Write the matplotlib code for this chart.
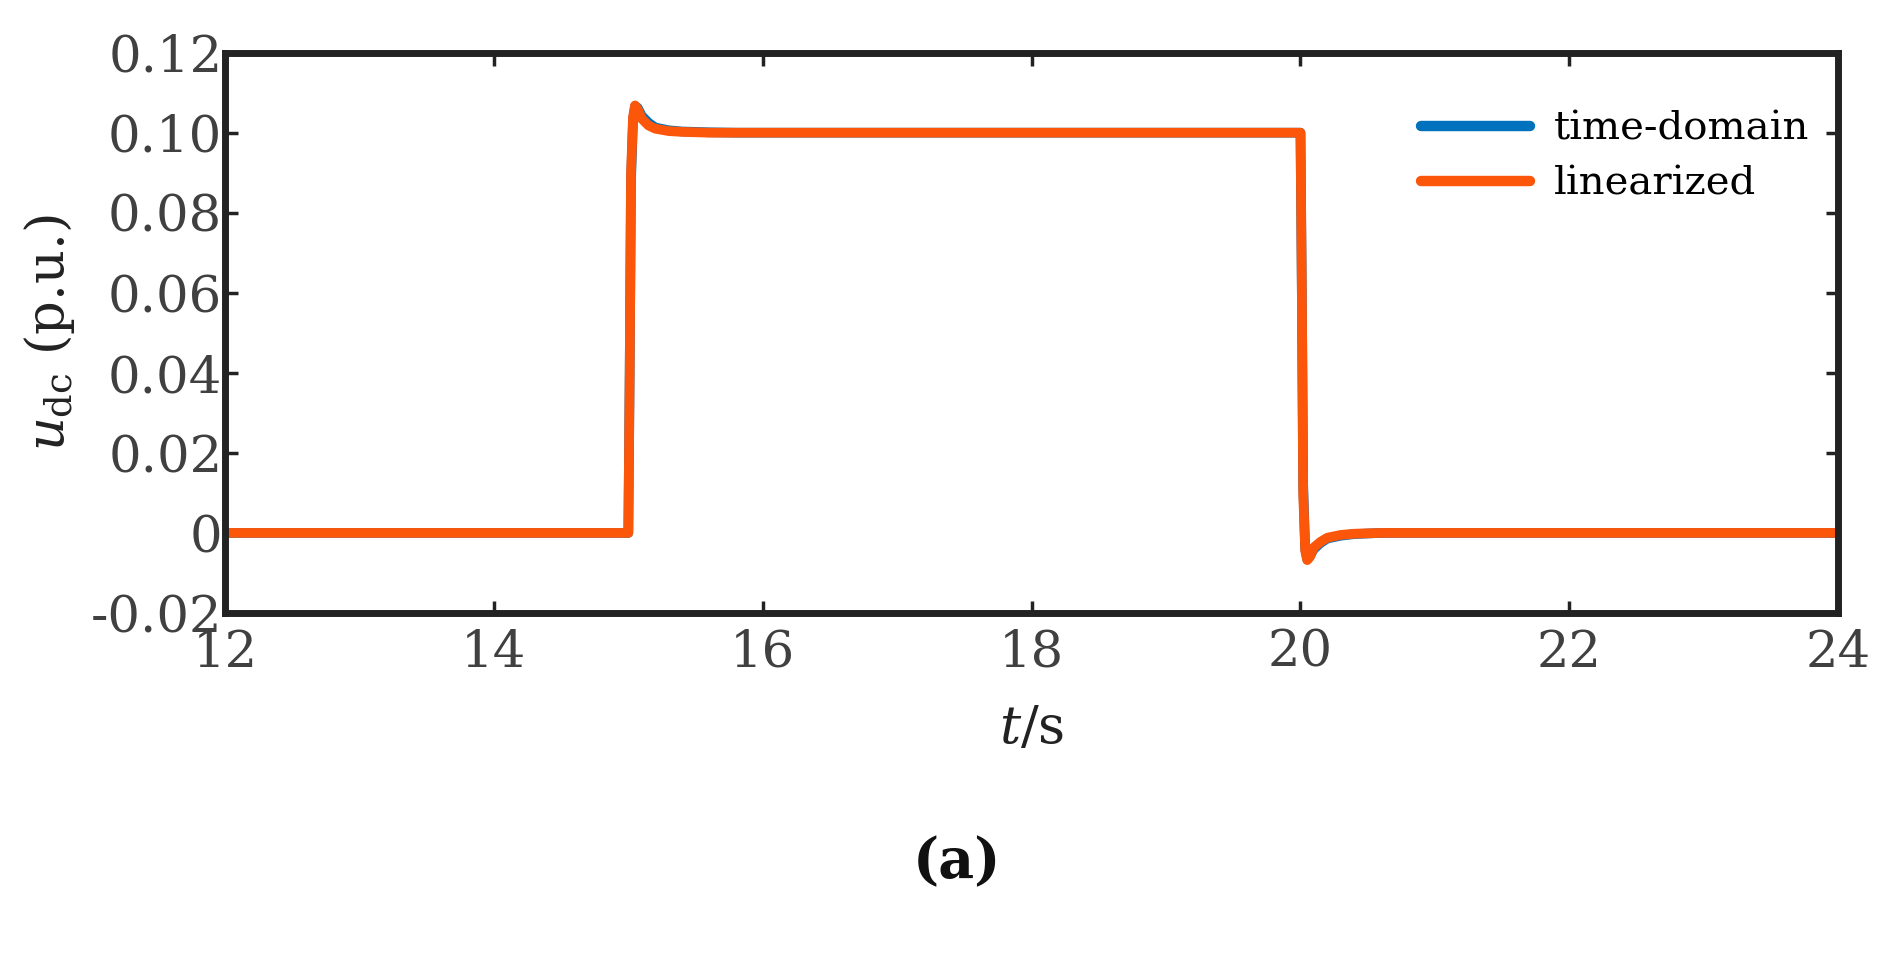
import matplotlib
matplotlib.use("Agg")
import matplotlib.pyplot as plt

# ---- data ----
t_time = [12.0, 14.995, 15.0, 15.01, 15.02, 15.035, 15.05, 15.07, 15.1, 15.15, 15.2, 15.3,
          15.4, 15.6, 15.8, 19.995, 20.0, 20.01, 20.02, 20.035, 20.05, 20.07, 20.1, 20.15,
          20.2, 20.3, 20.4, 20.6, 24.0]
u_time = [0.0, 0.0, 0.0, 0.04, 0.088, 0.103, 0.1066, 0.1062, 0.1042, 0.1025, 0.1013, 0.1006,
          0.1003, 0.1001, 0.1, 0.1, 0.1, 0.06, 0.012, -0.004, -0.0066, -0.0058, -0.0040, -0.0025,
          -0.0014, -0.0007, -0.0003, 0.0, 0.0]

t_lin = [12.0, 14.995, 15.0, 15.01, 15.02, 15.035, 15.05, 15.07, 15.1, 15.15, 15.2, 15.3,
         15.4, 15.6, 15.8, 19.995, 20.0, 20.01, 20.02, 20.035, 20.05, 20.07, 20.1, 20.15,
         20.2, 20.3, 20.4, 20.6, 24.0]
u_lin = [0.0, 0.0, 0.0, 0.04, 0.09, 0.104, 0.1068, 0.1058, 0.1035, 0.1018, 0.101, 0.1004,
         0.1002, 0.1, 0.1, 0.1, 0.1, 0.06, 0.01, -0.0045, -0.0068, -0.006, -0.0036, -0.0022,
         -0.0012, -0.0005, -0.0002, 0.0, 0.0]

x_ticks = [12, 14, 16, 18, 20, 22, 24]
y_ticks = [-0.02, 0.0, 0.02, 0.04, 0.06, 0.08, 0.10, 0.12]
y_tick_labels = ["-0.02", "0", "0.02", "0.04", "0.06", "0.08", "0.10", "0.12"]
series_labels = ["time-domain", "linearized"]
colors = ["#0072BD", "#FC560B"]

plt.rcParams['font.family'] = ['DejaVu Serif']
plt.rcParams['mathtext.fontset'] = 'dejavuserif'

fig = plt.figure(figsize=(18.99, 9.57), dpi=100)
ax = fig.add_axes([0.1185, 0.3595, 0.8495, 0.5855])

ax.plot(t_time, u_time, color=colors[0], lw=7, label=series_labels[0], solid_capstyle='round')
ax.plot(t_lin, u_lin, color=colors[1], lw=7, label=series_labels[1], solid_capstyle='round')

ax.set_xlim(12, 24)
ax.set_ylim(-0.02, 0.12)
ax.set_xticks(x_ticks)
ax.set_xticklabels([str(v) for v in x_ticks])
ax.set_yticks(y_ticks)
ax.set_yticklabels(y_tick_labels)

for s in ax.spines.values():
    s.set_linewidth(5)
    s.set_color('#222222')

ax.tick_params(axis='both', which='both', direction='in', length=9, width=2.5,
               color='#222222', labelcolor='#404040', labelsize=37,
               top=True, right=True)
ax.tick_params(axis='x', pad=11)
ax.tick_params(axis='y', pad=2)

ax.set_xlabel(r'$t$/s', fontsize=38, color='#222222', labelpad=18)
ax.set_ylabel(r'$u_{\mathrm{dc}}$ (p.u.)', fontsize=38, color='#222222', labelpad=10)

leg = ax.legend(loc='upper right', bbox_to_anchor=(0.992, 0.925), frameon=False,
                fontsize=29, handlelength=2.7, handletextpad=0.6, labelspacing=0.45,
                borderaxespad=0.0)
for line in leg.get_lines():
    line.set_linewidth(7.5)
    line.set_solid_capstyle('round')

fig.text(0.504, 0.099, '(a)', ha='center', va='center', fontsize=40, fontweight='bold',
         color='#111111')

fig.savefig('out.png', dpi=100)
